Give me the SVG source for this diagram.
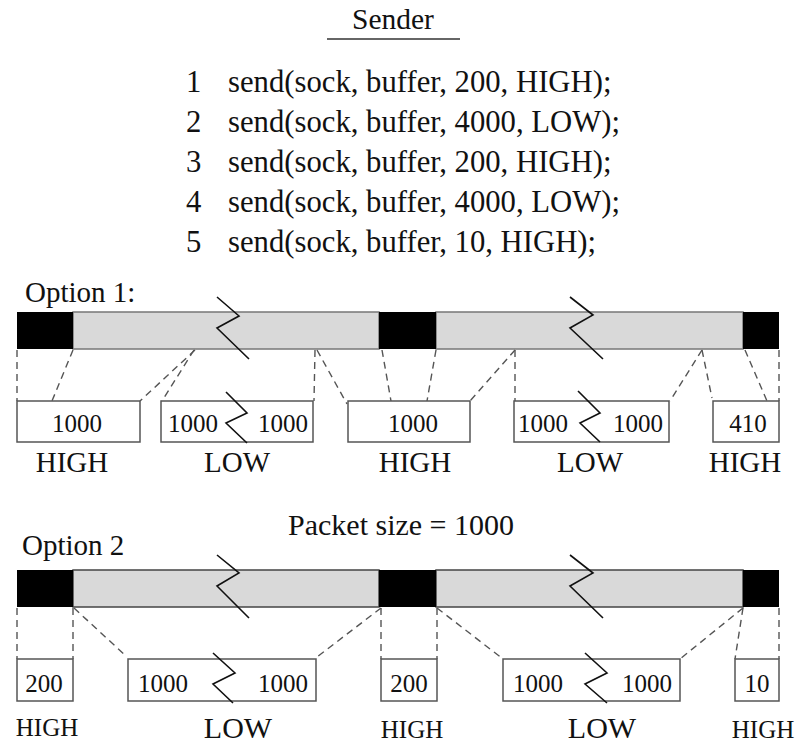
<svg xmlns="http://www.w3.org/2000/svg" width="800" height="744" viewBox="0 0 800 744" font-family="'Liberation Serif', Tinos, 'Times New Roman', 'DejaVu Serif', serif">
<style>
text{font-family:'Liberation Serif',Tinos,'Times New Roman','DejaVu Serif',serif;fill:#111}
.big{font-size:30.7px}
.lbl{font-size:29px;text-anchor:middle}
.num{font-size:25px;text-anchor:middle}
.blk{fill:#000}
.seg{fill:#d9d9d9;stroke:#777;stroke-width:1.5}
.box{fill:#fff;stroke:#555;stroke-width:1.5}
.zz{fill:none;stroke:#111;stroke-width:1.6}
.dash{fill:none;stroke:#555;stroke-width:1.4;stroke-dasharray:7 5}
</style>
<g id="sender">
<text x="393" y="29" text-anchor="middle" style="font-size:29.5px">Sender</text>
<line x1="327" y1="39" x2="460" y2="39" stroke="#333" stroke-width="1.5"/>
</g>
<g id="code" class="big">
<text x="186" y="92">1</text><text x="228" y="92">send(sock, buffer, 200, HIGH);</text>
<text x="186" y="132">2</text><text x="228" y="132">send(sock, buffer, 4000, LOW);</text>
<text x="186" y="172">3</text><text x="228" y="172">send(sock, buffer, 200, HIGH);</text>
<text x="186" y="212">4</text><text x="228" y="212">send(sock, buffer, 4000, LOW);</text>
<text x="186" y="252">5</text><text x="228" y="252">send(sock, buffer, 10, HIGH);</text>
</g>
<text id="opt1-label" x="25" y="302" style="font-size:29px">Option 1:</text>
<g id="bar1">
<rect class="seg" x="73" y="312" width="306" height="37"/>
<rect class="seg" x="436" y="312" width="307" height="37"/>
<rect class="blk" x="17" y="312" width="56" height="37"/>
<rect class="blk" x="379" y="312" width="57" height="37"/>
<rect class="blk" x="743" y="312" width="36" height="37"/>
<polyline class="zz" points="217,297 239,316 217,328 249,359"/>
<polyline class="zz" points="570,297 593,315 570,328 603,359"/>
</g>
<g id="opt1-connectors">
<line class="dash" x1="17" y1="350" x2="17" y2="401"/>
<line class="dash" x1="73" y1="350" x2="52" y2="401"/>
<line class="dash" x1="195" y1="350" x2="140" y2="401"/>
<line class="dash" x1="194" y1="350" x2="162" y2="401"/>
<line class="dash" x1="315" y1="350" x2="314" y2="401"/>
<line class="dash" x1="317" y1="350" x2="347" y2="404"/>
<line class="dash" x1="382" y1="350" x2="391" y2="401"/>
<line class="dash" x1="436" y1="350" x2="427" y2="401"/>
<line class="dash" x1="515" y1="350" x2="470" y2="401"/>
<line class="dash" x1="515" y1="350" x2="515" y2="401"/>
<line class="dash" x1="702" y1="350" x2="670" y2="401"/>
<line class="dash" x1="702" y1="350" x2="712" y2="398"/>
<line class="dash" x1="745" y1="350" x2="767" y2="401"/>
<line class="dash" x1="779" y1="350" x2="779" y2="401"/>
</g>
<g id="opt1-box1"><rect class="box" x="17" y="401" width="123" height="41"/><text class="num" x="77" y="432">1000</text><text class="lbl" x="72" y="472">HIGH</text></g>
<g id="opt1-box2"><rect class="box" x="161" y="401" width="152" height="41"/><text class="num" x="193" y="432">1000</text><text class="num" x="283" y="432">1000</text><polyline class="zz" points="226,392 247,413 226,423 247,443"/><text class="lbl" x="237" y="472">LOW</text></g>
<g id="opt1-box3"><rect class="box" x="348" y="401" width="122" height="41"/><text class="num" x="413" y="432">1000</text><text class="lbl" x="415" y="472">HIGH</text></g>
<g id="opt1-box4"><rect class="box" x="514" y="401" width="155" height="41"/><text class="num" x="543" y="432">1000</text><text class="num" x="638" y="432">1000</text><polyline class="zz" points="578,391 600,413 580,423 600,442"/><text class="lbl" x="590" y="472">LOW</text></g>
<g id="opt1-box5"><rect class="box" x="713" y="401" width="66" height="41"/><text class="num" x="748" y="432">410</text><text class="lbl" x="745" y="472">HIGH</text></g>
<text id="packet-size" x="288" y="535" style="font-size:30px">Packet size = 1000</text>
<text id="opt2-label" x="22" y="555" style="font-size:29px">Option 2</text>
<g id="bar2">
<rect class="seg" x="73" y="570" width="306" height="37" style="stroke:#444"/>
<rect class="seg" x="436" y="570" width="307" height="37" style="stroke:#444"/>
<rect class="blk" x="17" y="570" width="56" height="37"/>
<rect class="blk" x="379" y="570" width="57" height="37"/>
<rect class="blk" x="743" y="570" width="36" height="37"/>
<polyline class="zz" points="217,555 239,573 217,586 249,618"/>
<polyline class="zz" points="570,555 593,573 570,586 603,618"/>
</g>
<g id="opt2-connectors">
<line class="dash" x1="17" y1="608" x2="17" y2="659"/>
<line class="dash" x1="73" y1="608" x2="73" y2="659"/>
<line class="dash" x1="74" y1="608" x2="126" y2="656"/>
<line class="dash" x1="381" y1="608" x2="317" y2="657"/>
<line class="dash" x1="381" y1="608" x2="381" y2="659"/>
<line class="dash" x1="437" y1="608" x2="437" y2="659"/>
<line class="dash" x1="437" y1="608" x2="503" y2="659"/>
<line class="dash" x1="743" y1="608" x2="680" y2="659"/>
<line class="dash" x1="743" y1="608" x2="735" y2="659"/>
<line class="dash" x1="779" y1="608" x2="779" y2="659"/>
</g>
<g id="opt2-box1"><rect class="box" x="17" y="659" width="56" height="42"/><text class="num" x="44" y="692">200</text><text class="lbl" x="47" y="736" style="font-size:25px">HIGH</text></g>
<g id="opt2-box2"><rect class="box" x="128" y="659" width="188" height="42"/><text class="num" x="163" y="692">1000</text><text class="num" x="283" y="692">1000</text><polyline class="zz" points="213,653 235,673 213,684 233,703"/><text class="lbl" x="238" y="738" style="font-size:30px">LOW</text></g>
<g id="opt2-box3"><rect class="box" x="381" y="659" width="56" height="42"/><text class="num" x="409" y="692">200</text><text class="lbl" x="412" y="738" style="font-size:25px">HIGH</text></g>
<g id="opt2-box4"><rect class="box" x="503" y="659" width="177" height="42"/><text class="num" x="538" y="692">1000</text><text class="num" x="647" y="692">1000</text><polyline class="zz" points="585,653 607,673 585,684 607,703"/><text class="lbl" x="602" y="738" style="font-size:30px">LOW</text></g>
<g id="opt2-box5"><rect class="box" x="735" y="659" width="44" height="42"/><text class="num" x="757" y="692">10</text><text class="lbl" x="763" y="738" style="font-size:25px">HIGH</text></g>
</svg>
